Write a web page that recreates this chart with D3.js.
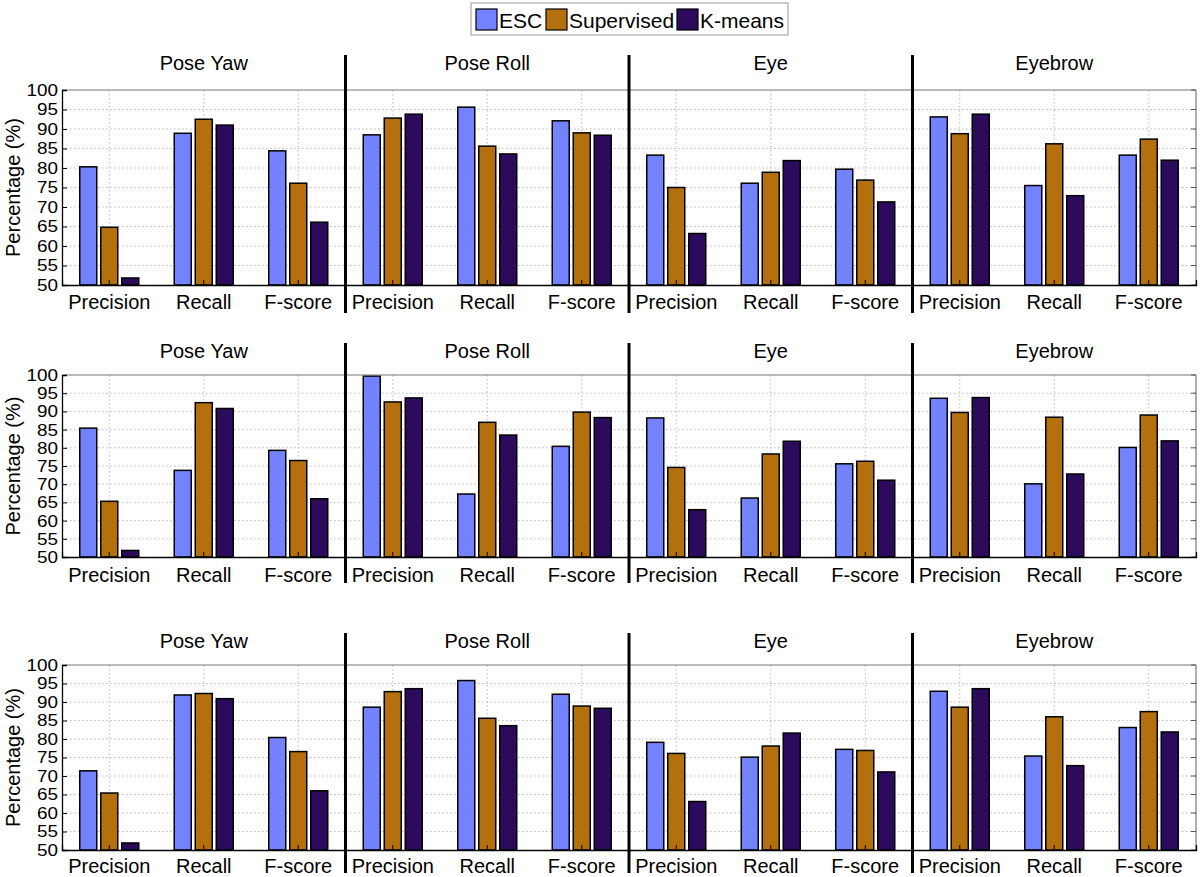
<!DOCTYPE html>
<html><head><meta charset="utf-8">
<script src="https://cdn.jsdelivr.net/npm/d3@7"></script>
<style>
body{margin:0;background:#fff;}
text{font-family:"Liberation Sans",Arial,Helvetica,sans-serif;fill:#000;}
</style></head>
<body><svg id="c" width="1200" height="877"></svg>
<script>
const groups = ["Pose Yaw","Pose Roll","Eye","Eyebrow"];
const metrics = ["Precision","Recall","F-score"];
const series = ["ESC","Supervised","K-means"];
const colors = ["#7383ff","#b5700e","#2d0b5c"];
const yTicks = [50,55,60,65,70,75,80,85,90,95,100];

// Row 1 (order: Pose Yaw P,R,F | Pose Roll P,R,F | Eye P,R,F | Eyebrow P,R,F)
const row1ESC = [80.3,88.9,84.4, 88.5,95.6,92.1, 83.3,76.1,79.7, 93.1,75.5,83.3];
const row1Sup = [64.8,92.5,76.1, 92.8,85.6,89.0, 75.0,78.9,76.9, 88.8,86.2,87.4];
const row1KM  = [51.8,91.0,66.1, 93.8,83.6,88.4, 63.2,81.9,71.3, 93.8,72.9,82.0];
// Row 2
const row2ESC = [85.4,73.8,79.3, 99.7,67.3,80.4, 88.2,66.2,75.6, 93.6,70.1,80.1];
const row2Sup = [65.3,92.4,76.5, 92.6,87.0,89.8, 74.6,78.3,76.3, 89.7,88.4,89.0];
const row2KM  = [51.8,90.8,66.0, 93.7,83.5,88.3, 63.0,81.8,71.1, 93.8,72.8,81.9];
// Row 3
const row3ESC = [71.4,91.9,80.4, 88.6,95.8,92.1, 79.1,75.1,77.2, 92.9,75.4,83.1];
const row3Sup = [65.4,92.3,76.6, 92.8,85.6,88.9, 76.1,78.1,76.9, 88.6,86.0,87.4];
const row3KM  = [51.9,90.9,66.0, 93.6,83.6,88.3, 63.1,81.6,71.1, 93.6,72.8,81.9];

const rowsData = [[row1ESC,row1Sup,row1KM],[row2ESC,row2Sup,row2KM],[row3ESC,row3Sup,row3KM]];

const svg = d3.select("#c");
const X0 = 62, X1 = 1196;
const keys = [];
groups.forEach((g,gi)=>metrics.forEach((m,mi)=>keys.push(gi+"|"+mi)));
const x = d3.scaleBand().domain(keys).range([X0,X1]).padding(0);
const xs = d3.scaleBand().domain(series).range([-31.5,31.5]).paddingInner(4/21).paddingOuter(2/21);
const gx = d3.scaleBand().domain(groups).range([X0,X1]);

const layout = [
  {top:90, bottom:285, title:63, label:302, divTop:55, divBot:313},
  {top:375,bottom:557, title:351,label:575, divTop:343,divBot:583},
  {top:665,bottom:850, title:641,label:866, divTop:633,divBot:873}
];

layout.forEach((L,ri)=>{
  const y = d3.scaleLinear().domain([50,100]).range([L.bottom,L.top]);
  const g = svg.append("g");
  g.append("rect").attr("x",X0).attr("y",L.top).attr("width",X1-X0).attr("height",L.bottom-L.top).attr("fill","#fff");
  // horizontal grid
  g.selectAll(".hg").data(yTicks.filter(t=>t>50&&t<100)).join("line")
    .attr("x1",X0).attr("x2",X1).attr("y1",d=>y(d)).attr("y2",d=>y(d))
    .attr("stroke","#b8b8b8").attr("stroke-width",1).attr("stroke-dasharray","1.5,2.5");
  // vertical grid
  g.selectAll(".vg").data(keys).join("line")
    .attr("x1",d=>x(d)+x.bandwidth()/2).attr("x2",d=>x(d)+x.bandwidth()/2)
    .attr("y1",L.top).attr("y2",L.bottom)
    .attr("stroke","#b8b8b8").attr("stroke-width",1).attr("stroke-dasharray","1.5,2.5");
  // bars
  const data = [];
  rowsData[ri].forEach((arr,si)=>arr.forEach((v,k)=>data.push({k:keys[k],s:series[si],si,v})));
  g.selectAll(".bar").data(data).join("rect")
    .attr("x",d=>x(d.k)+x.bandwidth()/2+xs(d.s))
    .attr("width",xs.bandwidth())
    .attr("y",d=>y(d.v)).attr("height",d=>y(50)-y(d.v))
    .attr("fill",d=>colors[d.si]).attr("stroke","#000").attr("stroke-width",1.5);
  // box
  g.append("line").attr("x1",X0).attr("x2",X1).attr("y1",L.top).attr("y2",L.top).attr("stroke","#777").attr("stroke-width",1.2);
  g.append("line").attr("x1",X1).attr("x2",X1).attr("y1",L.top).attr("y2",L.bottom).attr("stroke","#777").attr("stroke-width",1.2);
  // y axis
  const ya = d3.axisLeft(y).tickValues(yTicks).tickSize(-5).tickPadding(4).tickFormat(d3.format("d"));
  const yg = g.append("g").attr("transform",`translate(${X0},0)`).call(ya);
  yg.select(".domain").attr("stroke","#000").attr("stroke-width",1.3);
  yg.selectAll(".tick line").attr("stroke","#000");
  yg.selectAll("text").attr("font-size",17).attr("font-family","Liberation Sans, Arial, sans-serif").attr("fill","#000")
    .attr("textLength",function(d){return String(d).length*10.5;}).attr("lengthAdjust","spacingAndGlyphs");
  // right ticks
  g.selectAll(".rt").data(yTicks).join("line").attr("x1",X1).attr("x2",X1-5).attr("y1",d=>y(d)).attr("y2",d=>y(d)).attr("stroke","#555");
  // x axis
  const xa = d3.axisBottom(x).tickSize(-5).tickPadding(8).tickFormat(d=>metrics[+d.split("|")[1]]);
  const xg = g.append("g").attr("transform",`translate(0,${L.bottom})`).call(xa);
  xg.select(".domain").attr("stroke","#000").attr("stroke-width",1.3);
  xg.selectAll(".tick line").attr("stroke","#000");
  xg.selectAll("text").attr("font-size",20).attr("font-family","Liberation Sans, Arial, sans-serif").attr("fill","#000")
    .attr("y",null).attr("dy",null).attr("transform",`translate(0,${L.label-L.bottom})`).attr("dominant-baseline","central");
  // titles
  g.selectAll(".ttl").data(groups).join("text")
    .attr("x",d=>gx(d)+gx.bandwidth()/2).attr("y",L.title).attr("dominant-baseline","central")
    .attr("text-anchor","middle").attr("font-size",20).text(d=>d);
  // dividers
  g.selectAll(".div").data(groups.slice(1)).join("line")
    .attr("x1",d=>gx(d)).attr("x2",d=>gx(d)).attr("y1",L.divTop).attr("y2",L.divBot)
    .attr("stroke","#000").attr("stroke-width",3);
  // y label
  g.append("text").attr("transform",`translate(13,${(L.top+L.bottom)/2}) rotate(-90)`)
    .attr("text-anchor","middle").attr("dominant-baseline","central").attr("font-size",20).text("Percentage (%)");
});

// legend
const lg = svg.append("g");
lg.append("rect").attr("x",471).attr("y",3).attr("width",317).attr("height",32).attr("fill","#fff").attr("stroke","#999").attr("stroke-width",1);
const legX = [476,546,677];
series.forEach((s,i)=>{
  lg.append("rect").attr("x",legX[i]).attr("y",9).attr("width",21).attr("height",21).attr("fill",colors[i]).attr("stroke","#000").attr("stroke-width",1.2);
  lg.append("text").attr("x",legX[i]+23).attr("y",20).attr("dominant-baseline","central").attr("font-size",21).text(s);
});
</script></body></html>
